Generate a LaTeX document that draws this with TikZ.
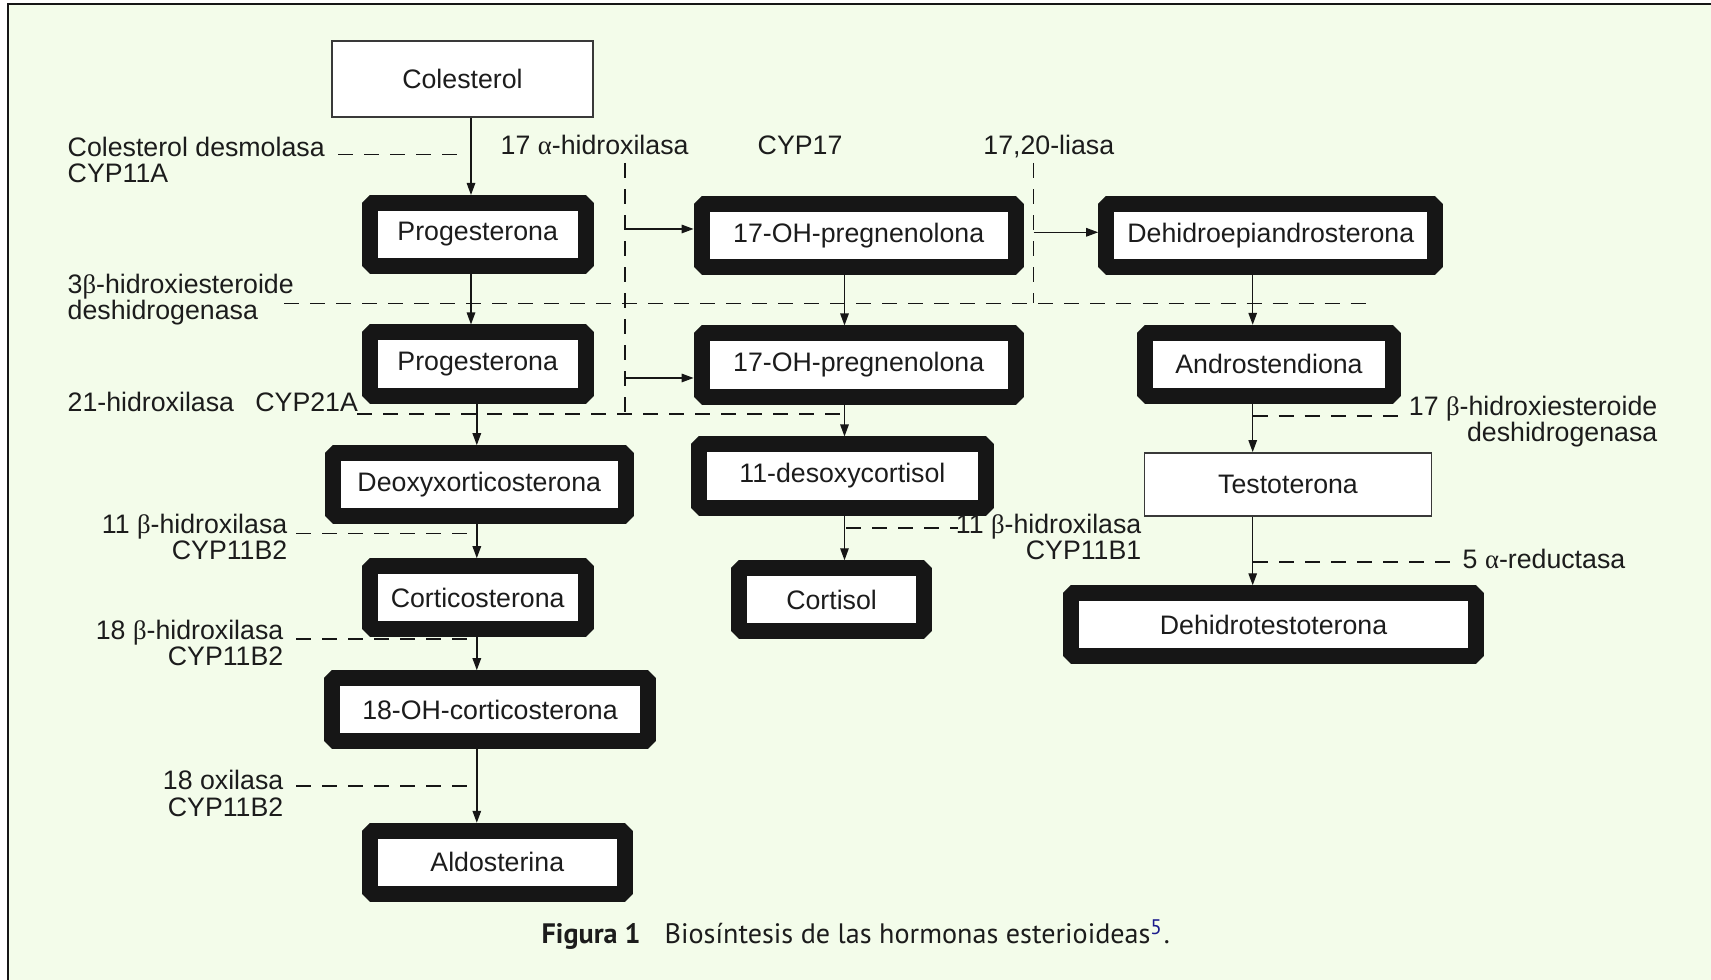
\documentclass[tikz,border=0pt]{standalone}
\usepackage{fontspec}
\setmainfont{Liberation Sans}
\newfontfamily\griego{Liberation Serif}
\newfontfamily\pie{PT Sans}
\usetikzlibrary{arrows.meta}

\definecolor{fondo}{HTML}{F3FCEA}
\definecolor{caja}{HTML}{161616}
\definecolor{tinta}{HTML}{1C1C1C}
\definecolor{azulref}{HTML}{1A1A8C}

\newcommand{\etq}{\fontsize{7.6}{7.55}\selectfont}
\newcommand{\galfa}{{\griego α}}
\newcommand{\gbeta}{{\griego β}}

\begin{document}
\begin{tikzpicture}[x=0.01cm, y=-0.01cm, >={Triangle[length=1.2mm, width=0.85mm]}]
  % styles
  \tikzstyle{hormona} = [draw=caja, fill=white, line width=1.6mm, line join=bevel,
    minimum height=6.3mm, inner sep=0, font=\etq, text=tinta]
  \tikzstyle{precursor} = [draw=caja!85, fill=white, line width=0.5pt, inner sep=0,
    font=\etq, text=tinta]
  \tikzstyle{flecha} = [->, draw=caja, line width=0.4pt]
  \tikzstyle{enzima} = [draw=caja, line width=0.4pt, dash pattern=on 1.5mm off 1.1mm]
  \tikzstyle{rotulo} = [inner sep=0, font=\etq, text=tinta]

  % page and frame
  \useasboundingbox (0, 0) rectangle (1711, 980);
  \fill[white] (0, 0) rectangle (1711, 980);
  \fill[fondo] (8, 4) rectangle (1711, 980);
  \draw[caja, line width=0.7pt] (8, 980) -- (8, 4) -- (1711, 4);

  % columns of the pathway
  \coordinate (c1) at (471, 0);
  \coordinate (c2) at (476.8, 0);
  \coordinate (c3) at (844.5, 0);
  \coordinate (c4) at (1252.7, 0);

  % left column
  \node[precursor, minimum width=26.1mm, minimum height=7.6mm] (col) at (462.5, 79) {Colesterol};
  \node[hormona, minimum width=21.6mm] (prog1) at (477.7, 234.5) {Progesterona};
  \node[hormona, minimum width=21.6mm] (prog2) at (477.7, 364) {Progesterona};
  \node[hormona, minimum width=29.3mm] (deoxy) at (479.3, 484.7) {Deoxyxorticosterona};
  \node[hormona, minimum width=21.6mm] (cortico) at (477.7, 597.7) {Corticosterona};
  \node[hormona, minimum width=31.5mm] (ohcort) at (490, 709.7) {18-OH-corticosterona};
  \node[hormona, minimum width=25.5mm] (aldo) at (497.3, 862.3) {Aldosterina};

  % middle column
  \node[hormona, minimum width=31.4mm] (ohpreg1) at (858.7, 235.9) {17-OH-pregnenolona};
  \node[hormona, minimum width=31.4mm] (ohpreg2) at (858.7, 365) {17-OH-pregnenolona};
  \node[hormona, minimum width=28.7mm] (desoxy) at (842.4, 476) {11-desoxycortisol};
  \node[hormona, minimum width=18.5mm] (cortisol) at (831.6, 599.8) {Cortisol};

  % right column
  \node[hormona, minimum width=32.9mm] (dhea) at (1270.8, 235.9) {Dehidroepiandrosterona};
  \node[hormona, minimum width=24.8mm] (andro) at (1269, 364.3) {Androstendiona};
  \node[precursor, minimum width=28.7mm, minimum height=6.3mm] (testo) at (1288, 484.5) {Testoterona};
  \node[hormona, minimum width=40.5mm] (dht) at (1273.5, 624.8) {Dehidrotestoterona};

  % reactions
  \draw[flecha] (col.south -| c1) -- (prog1.north -| c1);
  \draw[flecha] (prog1.south -| c1) -- (prog2.north -| c1);
  \draw[flecha] (prog2.south -| c2) -- (deoxy.north -| c2);
  \draw[flecha] (deoxy.south -| c2) -- (cortico.north -| c2);
  \draw[flecha] (cortico.south -| c2) -- (ohcort.north -| c2);
  \draw[flecha] (ohcort.south -| c2) -- (aldo.north -| c2);
  \draw[flecha] (ohpreg1.south -| c3) -- (ohpreg2.north -| c3);
  \draw[flecha] (ohpreg2.south -| c3) -- (desoxy.north -| c3);
  \draw[flecha] (desoxy.south -| c3) -- (cortisol.north -| c3);
  \draw[flecha] (dhea.south -| c4) -- (andro.north -| c4);
  \draw[flecha] (andro.south -| c4) -- (testo.north -| c4);
  \draw[flecha] (testo.south -| c4) -- (dht.north -| c4);

  % side reactions (17 alpha and 17,20)
  \coordinate (h1) at (625, 229);
  \coordinate (h2) at (625, 378);
  \coordinate (h3) at (1033.7, 232.3);
  \draw[flecha] (h1) -- (h1 -| ohpreg1.west);
  \draw[flecha] (h2) -- (h2 -| ohpreg2.west);
  \draw[flecha] (h3) -- (h3 -| dhea.west);

  % enzyme leaders
  \draw[enzima] (338, 154.3) -- (458, 154.3);
  \draw[enzima] (284, 303.3) -- (1370, 303.3);
  \draw[enzima] (357, 414) -- (845, 414);
  \draw[enzima] (625, 163) -- (625, 414);
  \draw[enzima] (1033.7, 163) -- (1033.7, 303.3);
  \draw[enzima] (296, 533.8) -- (476.8, 533.8);
  \draw[enzima] (296, 639) -- (476.8, 639);
  \draw[enzima] (296, 786) -- (476.8, 786);
  \draw[enzima] (846, 528.2) -- (958, 528.2);
  \draw[enzima] (1252.7, 416) -- (1404, 416);
  \draw[enzima] (1253, 562) -- (1452, 562);

  % enzyme names (base is the last line)
  \node[rotulo, anchor=base west, align=left] (desmolasa) at (67, 183) {Colesterol desmolasa\\CYP11A};
  \node[rotulo, anchor=base west] (hidrox17) at (500, 155) {17 \galfa-hidroxilasa};
  \node[rotulo, anchor=base west] (cyp17) at (757, 155) {CYP17};
  \node[rotulo, anchor=base west] (liasa) at (982.7, 155) {17,20-liasa};
  \node[rotulo, anchor=base west, align=left] (hsd3) at (67, 320) {3\gbeta-hidroxiesteroide\\deshidrogenasa};
  \node[rotulo, anchor=base west] (hidrox21) at (67, 411.7) {21-hidroxilasa\hspace{0.8em}CYP21A};
  \node[rotulo, anchor=base east, align=right] (hidrox11a) at (288, 559.8) {11 \gbeta-hidroxilasa\\CYP11B2};
  \node[rotulo, anchor=base east, align=right] (hidrox18) at (284, 666) {18 \gbeta-hidroxilasa\\CYP11B2};
  \node[rotulo, anchor=base east, align=right] (oxilasa18) at (284, 816.5) {18 oxilasa\\CYP11B2};
  \node[rotulo, anchor=base east, align=right] (hidrox11b) at (1142, 560) {11 \gbeta-hidroxilasa\\CYP11B1};
  \node[rotulo, anchor=base east, align=right] (hsd17) at (1658, 441.7) {17 \gbeta-hidroxiesteroide\\deshidrogenasa};
  \node[rotulo, anchor=base west] (reductasa) at (1462, 568.3) {5 \galfa-reductasa};

  % caption
  \node[anchor=base west, inner sep=0, text=tinta, font=\pie\fontsize{8}{9}\selectfont] (figura) at (541, 944)
    {\textbf{Figura 1}\hspace{2.4mm}Biosíntesis de las hormonas esterioideas\textsuperscript{\color{azulref}5}.};
\end{tikzpicture}
\end{document}
